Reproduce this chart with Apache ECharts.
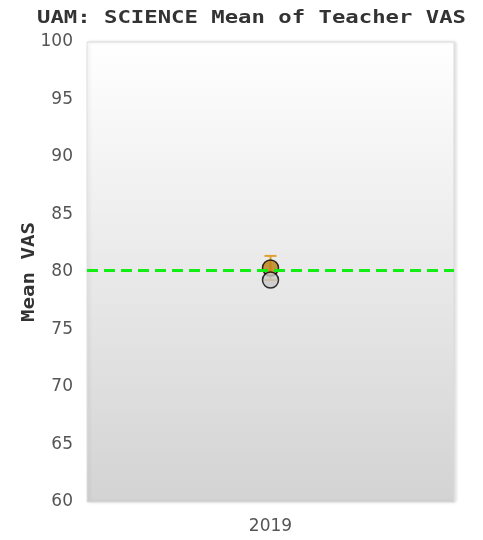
<!DOCTYPE html>
<html><head><meta charset="utf-8">
<script src="https://cdn.jsdelivr.net/npm/echarts@6/dist/echarts.min.js"></script>
<style>html,body{margin:0;padding:0;background:#fff}#c{width:483px;height:540px}</style>
</head><body><div id="c"></div>
<script>
const categories = ['2019'];
const teacherMean = [80.35];
const teacherLow = [79.3];
const teacherHigh = [81.4];
const comparisonMean = [79.3];
const benchmark = 80.17;
const yMin = 60, yMax = 100, yInterval = 5;
const titleText = 'UAM: SCIENCE Mean of Teacher VAS';
const yName = 'Mean VAS';

const chart = echarts.init(document.getElementById('c'));
chart.setOption({
  animation: false,
  graphic: [
    { type: 'text', x: 251.5, y: 19, scaleX: 1.31,
      style: { text: titleText, font: 'bold 17px "DejaVu Sans Mono"', fill: '#333', textAlign: 'center', textVerticalAlign: 'middle' } },
    { type: 'text', x: 30, y: 272, rotation: Math.PI / 2, scaleX: 1.22,
      style: { text: yName, font: 'bold 17px "DejaVu Sans Mono"', fill: '#333', textAlign: 'center', textVerticalAlign: 'middle' } }
  ],
  grid: {
    left: 87, right: 29, top: 42, bottom: 38, show: true,
    borderColor: '#dcdcdc', borderWidth: 1,
    shadowColor: 'rgba(0,0,0,0.12)', shadowBlur: 3, shadowOffsetX: 2, shadowOffsetY: 0,
    backgroundColor: new echarts.graphic.LinearGradient(0, 0, 0, 1, [
      { offset: 0, color: '#ffffff' }, { offset: 1, color: '#d3d3d3' }
    ])
  },
  xAxis: {
    type: 'category', data: categories,
    axisLine: { show: false }, axisTick: { show: false }, splitLine: { show: false },
    axisLabel: { color: '#555', fontSize: 17, fontFamily: 'DejaVu Sans', margin: 16 }
  },
  yAxis: {
    type: 'value', min: yMin, max: yMax, interval: yInterval,
    axisLine: { show: false }, axisTick: { show: false }, splitLine: { show: false },
    axisLabel: { color: '#555', fontSize: 17, fontFamily: 'DejaVu Sans', margin: 14 }
  },
  series: [
    {
      type: 'custom', z: 3,
      data: categories.map((c, i) => [i, teacherLow[i], teacherHigh[i]]),
      renderItem: function (params, api) {
        const x = api.value(0);
        const lo = api.coord([x, api.value(1)]);
        const hi = api.coord([x, api.value(2)]);
        const hw = 6;
        const st = { stroke: '#e0a030', lineWidth: 2 };
        return { type: 'group', children: [
          { type: 'line', shape: { x1: lo[0], y1: lo[1], x2: hi[0], y2: hi[1] }, style: st },
          { type: 'line', shape: { x1: hi[0] - hw, y1: hi[1], x2: hi[0] + hw, y2: hi[1] }, style: st },
          { type: 'line', shape: { x1: lo[0] - hw, y1: lo[1], x2: lo[0] + hw, y2: lo[1] }, style: st }
        ]};
      }
    },
    {
      type: 'scatter', z: 4, data: teacherMean, symbol: 'circle', symbolSize: 16,
      itemStyle: { color: '#bb8010', borderColor: '#000', borderWidth: 1.5 },
      markLine: {
        silent: true, symbol: 'none', label: { show: false },
        lineStyle: { color: '#11ee11', width: 3, type: [11, 6] },
        data: [{ yAxis: benchmark }]
      }
    },
    {
      type: 'scatter', z: 5, data: comparisonMean, symbol: 'circle', symbolSize: 16,
      itemStyle: { color: '#c8c8c8', borderColor: '#000', borderWidth: 1.5 }
    }
  ]
});
</script></body></html>
